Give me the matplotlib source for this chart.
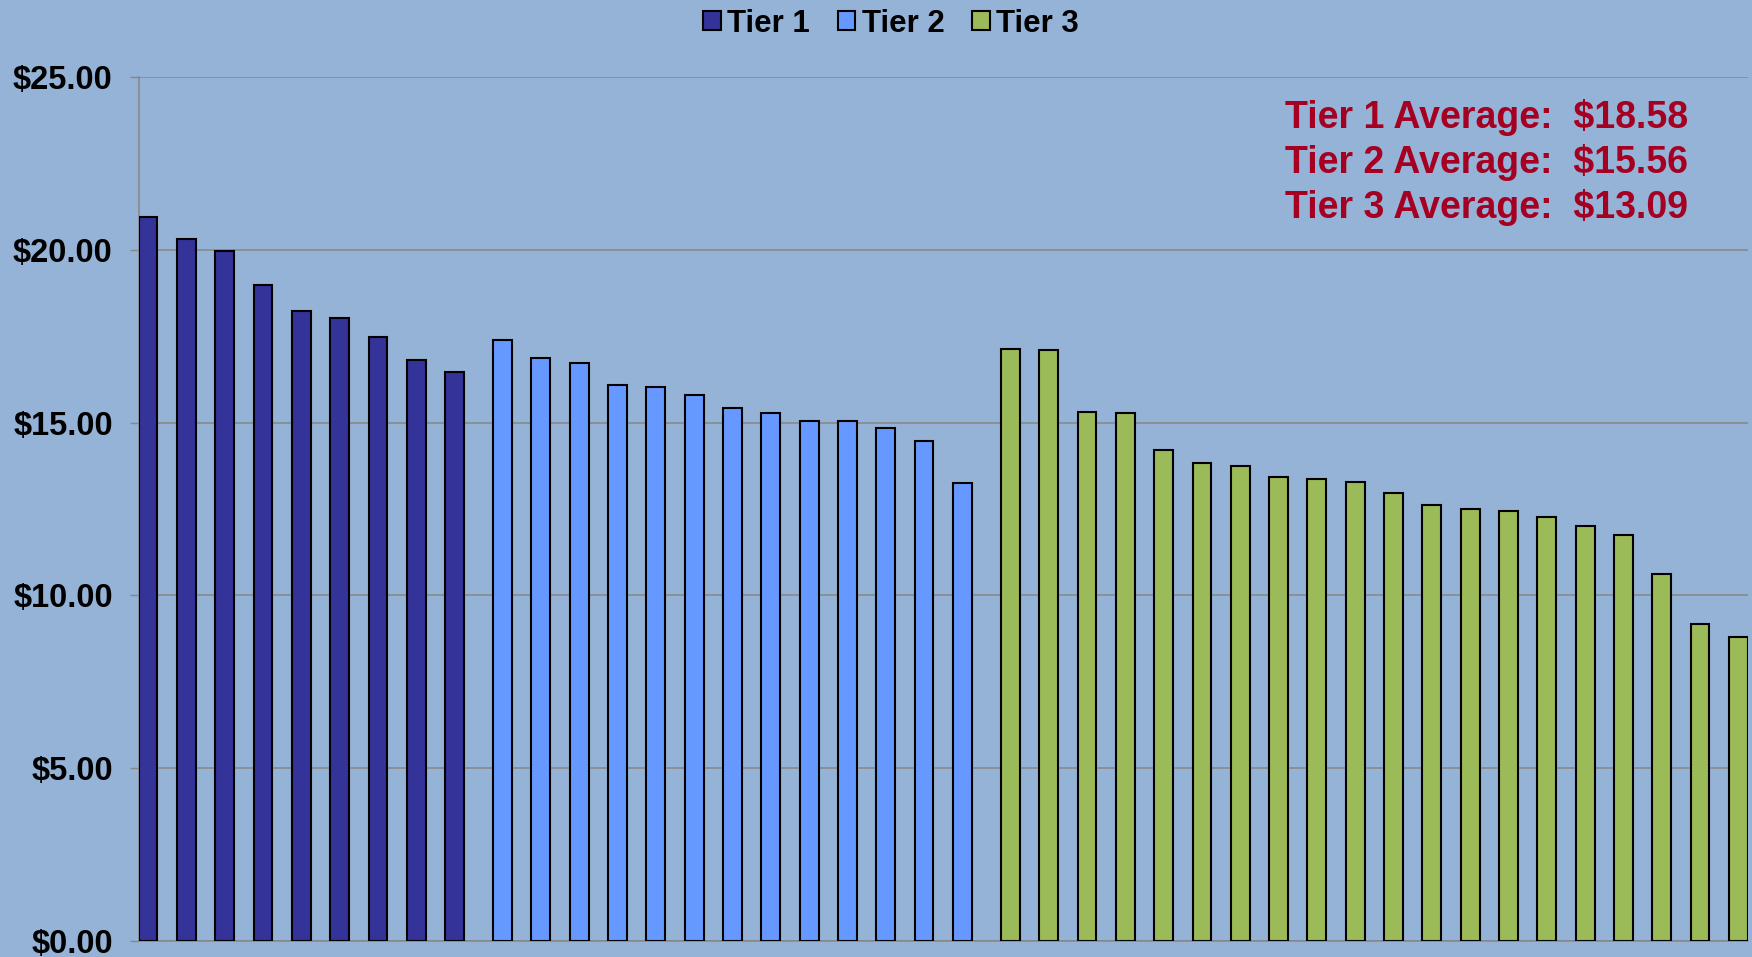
import numpy as np
import matplotlib
matplotlib.use('Agg')
import matplotlib.pyplot as plt

plt.rcParams['font.family'] = ['Liberation Sans', 'DejaVu Sans']
plt.rcParams['font.weight'] = 'bold'

tier_names = ['Tier 1', 'Tier 2', 'Tier 3']
tier1 = [20.96, 20.31, 19.97, 18.98, 18.23, 18.02, 17.48, 16.81, 16.46]
tier2 = [17.38, 16.87, 16.73, 16.10, 16.02, 15.80, 15.43, 15.28, 15.04, 15.04,
         14.83, 14.47, 13.25]
tier3 = [17.13, 17.11, 15.31, 15.27, 14.21, 13.82, 13.74, 13.44, 13.37, 13.27,
         12.97, 12.63, 12.51, 12.45, 12.26, 12.00, 11.75, 10.63, 9.17, 8.81]
yticks = [0, 5, 10, 15, 20, 25]

bg = '#95B3D7'
colors = ['#333399', '#6699FF', '#9BBB59']
offsets = [-0.25, 0.0, 0.25]

W, H = 1752, 957
fig = plt.figure(figsize=(W / 100, H / 100), dpi=100, facecolor=bg)
ax = fig.add_axes([138.5 / W, 1 - 941 / H, (1748 - 138.5) / W, (941 - 77) / H])
ax.set_facecolor(bg)

handles = []
start = 0
for name, vals, col, off in zip(tier_names, [tier1, tier2, tier3], colors, offsets):
    x = np.arange(start, start + len(vals)) + off
    b = ax.bar(x, vals, width=0.49, color=col, edgecolor='black', linewidth=1.5,
               label=name, zorder=3)
    handles.append(b)
    start += len(vals)

ax.set_xlim(-0.5, start - 0.5)
ax.set_ylim(0, 25)
ax.set_yticks(yticks)
ax.set_yticklabels([f'${v:.2f}' for v in yticks], fontsize=23.5, fontweight='bold')
ax.set_xticks([])
ax.tick_params(axis='y', direction='out', length=6.5, width=1, color='#868686', pad=12)
ax.grid(axis='y', color='#868686', linewidth=1.1, zorder=0)
for s in ['top', 'right']:
    ax.spines[s].set_visible(False)
for s in ['left', 'bottom']:
    ax.spines[s].set_color('#868686')
    ax.spines[s].set_linewidth(1.1)

fig.legend(handles=handles, labels=tier_names, loc='center',
           bbox_to_anchor=(891 / W, 1 - 23.5 / H), ncol=3, frameon=False,
           prop={'size': 22.5, 'weight': 'bold'}, handlelength=0.56, handleheight=0.56,
           handletextpad=0.2, columnspacing=0.9, borderpad=0, borderaxespad=0)

# averages box in the upper right
for i, (name, vals) in enumerate(zip(tier_names, [tier1, tier2, tier3])):
    fig.text(1285 / W, 1 - (128.3 + 44.7 * i) / H,
             f'{name} Average:  ${np.mean(vals):.2f}',
             color='#A50021', fontsize=27, fontweight='bold',
             ha='left', va='baseline')

fig.savefig('out.png', dpi=100, facecolor=bg)
